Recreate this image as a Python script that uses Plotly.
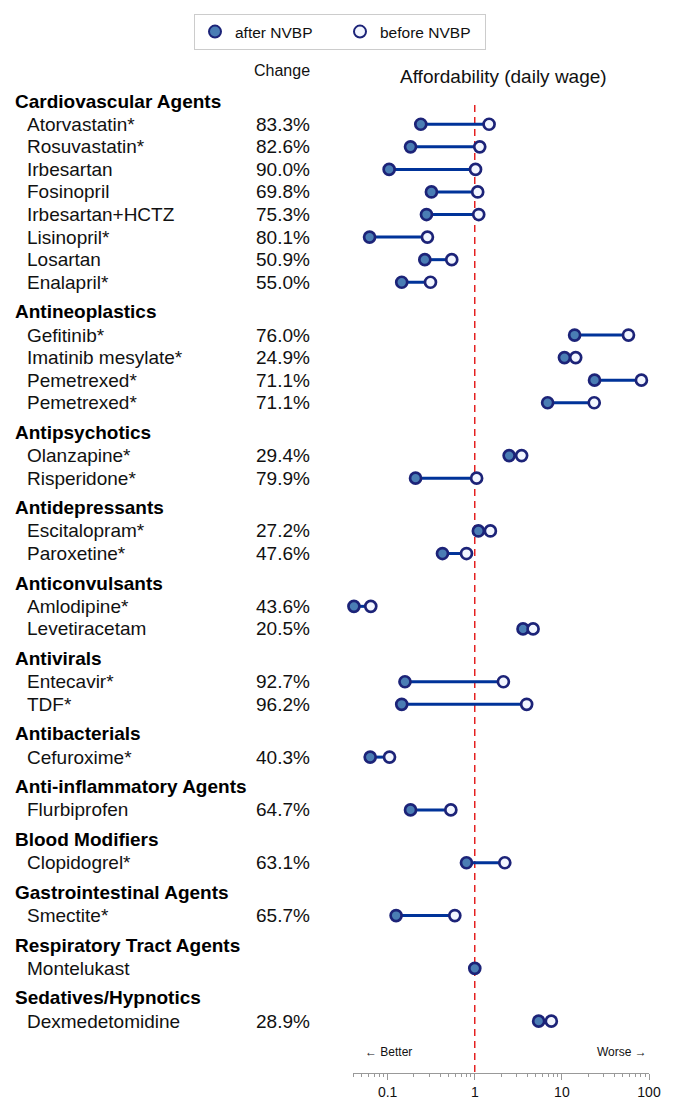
import math
import plotly.graph_objects as go

# affordability (days of wages) before/after NVBP
drugs = ["Atorvastatin*", "Rosuvastatin*", "Irbesartan", "Fosinopril", "Irbesartan+HCTZ",
         "Lisinopril*", "Losartan", "Enalapril*",
         "Gefitinib*", "Imatinib mesylate*", "Pemetrexed*", "Pemetrexed*",
         "Olanzapine*", "Risperidone*",
         "Escitalopram*", "Paroxetine*",
         "Amlodipine*", "Levetiracetam",
         "Entecavir*", "TDF*",
         "Cefuroxime*",
         "Flurbiprofen",
         "Clopidogrel*",
         "Smectite*",
         "Montelukast",
         "Dexmedetomidine"]
drug_group = ["Cardiovascular Agents"] * 8 + ["Antineoplastics"] * 4 + ["Antipsychotics"] * 2 \
    + ["Antidepressants"] * 2 + ["Anticonvulsants"] * 2 + ["Antivirals"] * 2 \
    + ["Antibacterials", "Anti-inflammatory Agents", "Blood Modifiers",
       "Gastrointestinal Agents", "Respiratory Tract Agents", "Sedatives/Hypnotics"]
change = ["83.3%", "82.6%", "90.0%", "69.8%", "75.3%", "80.1%", "50.9%", "55.0%",
          "76.0%", "24.9%", "71.1%", "71.1%",
          "29.4%", "79.9%",
          "27.2%", "47.6%",
          "43.6%", "20.5%",
          "92.7%", "96.2%",
          "40.3%", "64.7%", "63.1%", "65.7%", "", "28.9%"]
after = [0.24, 0.183, 0.104, 0.318, 0.279, 0.062, 0.267, 0.145,
         14.0, 10.7, 23.7, 6.86,
         2.48, 0.209,
         1.10, 0.426,
         0.041, 3.58,
         0.158, 0.145,
         0.063, 0.183, 0.803, 0.125, 1.0, 5.41]
before = [1.46, 1.14, 1.02, 1.08, 1.11, 0.286, 0.544, 0.31,
          58.1, 14.4, 81.8, 23.5,
          3.45, 1.05,
          1.51, 0.803,
          0.064, 4.67,
          2.13, 3.94,
          0.105, 0.531, 2.21, 0.59, None, 7.56]

FONT = "Liberation Sans, Arial, sans-serif"
NAVY = "#1c2378"
LINE = "#003399"

# page has an 8px body margin, so the figure is 16px smaller than the window
OFF = 8
W, H = 680 - 2 * OFF, 1112 - 2 * OFF
AXIS_Y = 1073          # page y of the x axis line
ROW = 22.57            # px per row
Y0 = 101               # page y of first class header


def px_x(x):
    return (x - OFF) / W


def row_of(y):
    return (y - Y0) / ROW


# row positions: item rows 1 unit apart, extra space before each class header
item_y, header_y = [], []
pos = None
prev = None
for g in drug_group:
    if g != prev:
        pos = 0.0 if pos is None else pos + 1.31
        header_y.append((g, pos))
        pos += 1.03
        prev = g
    else:
        pos += 1.0
    item_y.append(pos)

fig = go.Figure()

lx, ly = [], []
for a, b, y in zip(after, before, item_y):
    if a is not None and b is not None:
        lx += [a, b, None]
        ly += [y, y, None]
fig.add_trace(go.Scatter(x=lx, y=ly, mode="lines", line=dict(color=LINE, width=3),
                         showlegend=False, hoverinfo="skip", cliponaxis=False))
fig.add_trace(go.Scatter(x=after, y=item_y, mode="markers", name="after NVBP", cliponaxis=False,
                         marker=dict(size=11, color="#4a7db4", line=dict(color=NAVY, width=2.7))))
fig.add_trace(go.Scatter(x=before, y=item_y, mode="markers", name="before NVBP", cliponaxis=False,
                         marker=dict(size=11, color="#f2f6ff", line=dict(color=NAVY, width=2.7))))

# reference line at 1, behind the dumbbells
fig.add_shape(type="line", xref="x", yref="y", x0=1, x1=1, y0=row_of(105), y1=row_of(AXIS_Y),
              layer="below", line=dict(color="#e00000", width=1.3, dash="7px,5px"))

ann = []
for g, y in header_y:
    ann.append(dict(x=px_x(13), y=y, xref="paper", yref="y", text="<b>%s</b>" % g,
                    xanchor="left", showarrow=False, font=dict(size=19, color="#000")))
for d, c, y in zip(drugs, change, item_y):
    ann.append(dict(x=px_x(25), y=y, xref="paper", yref="y", text=d,
                    xanchor="left", showarrow=False, font=dict(size=19, color="#111")))
    if c:
        ann.append(dict(x=px_x(312), y=y, xref="paper", yref="y", text=c,
                        xanchor="right", showarrow=False, font=dict(size=19, color="#111")))
ann.append(dict(x=px_x(312), y=row_of(70), xref="paper", yref="y", text="Change",
                xanchor="right", showarrow=False, font=dict(size=16, color="#111")))
ann.append(dict(x=px_x(503), y=row_of(76), xref="paper", yref="y", text="Affordability (daily wage)",
                xanchor="center", showarrow=False, font=dict(size=19, color="#111")))
ann.append(dict(x=px_x(363), y=row_of(1052), xref="paper", yref="y", text="← Better",
                xanchor="left", showarrow=False, font=dict(size=12, color="#111")))
ann.append(dict(x=px_x(649), y=row_of(1052), xref="paper", yref="y", text="Worse →",
                xanchor="right", showarrow=False, font=dict(size=12, color="#111")))

minor_vals = [m * 10 ** e for e in range(-2, 2) for m in range(2, 10) if 0.04 <= m * 10 ** e <= 100]

fig.update_layout(
    width=W, height=H, autosize=False,
    margin=dict(l=0, r=0, t=0, b=H - (AXIS_Y - OFF), autoexpand=False),
    plot_bgcolor="white", paper_bgcolor="white",
    font=dict(family=FONT, color="#111"),
    annotations=ann,
    legend=dict(orientation="h", x=px_x(340), xanchor="center", y=1 - (32 - OFF) / (AXIS_Y - OFF),
                yanchor="middle", bordercolor="#cccccc", borderwidth=1, font=dict(size=15.5),
                entrywidth=100, itemsizing="constant"),
    xaxis=dict(type="log", range=[math.log10(0.04), 2], domain=[px_x(353), px_x(649)],
               automargin=False,
               tickvals=[0.1, 1, 10, 100], ticktext=["0.1", "1", "10", "100"],
               ticks="outside", ticklen=6, tickcolor="#999", showline=True, linecolor="#999",
               showgrid=False, zeroline=False, tickfont=dict(size=14, color="#111"),
               minor=dict(tickvals=minor_vals, ticks="outside", ticklen=3, tickcolor="#999",
                          showgrid=False)),
    yaxis=dict(range=[row_of(AXIS_Y), row_of(OFF)], visible=False, showgrid=False,
               zeroline=False, automargin=False),
)

fig.write_html("out.html")
